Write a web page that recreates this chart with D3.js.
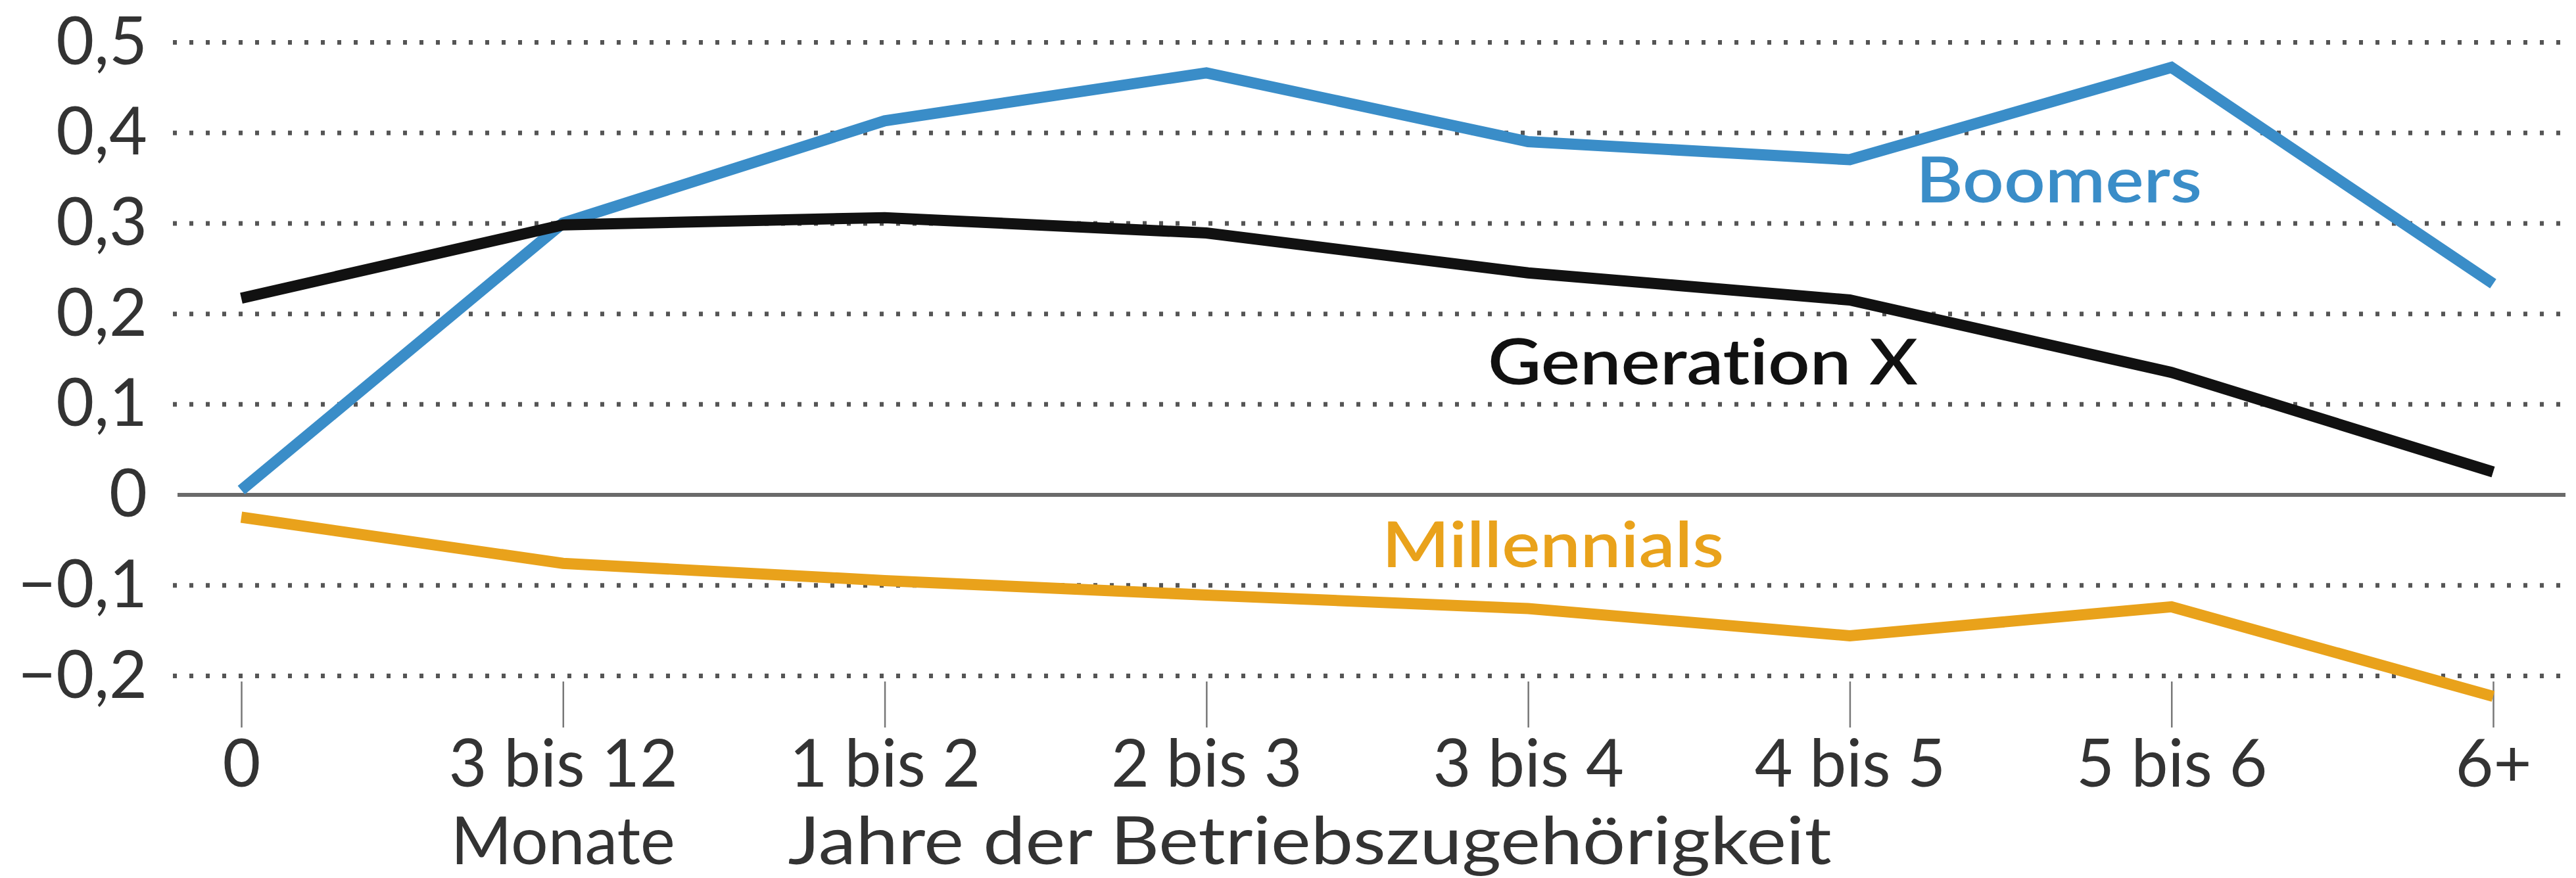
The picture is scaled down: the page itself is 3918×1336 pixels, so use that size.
<!DOCTYPE html>
<html>
<head>
<meta charset="utf-8">
<script src="https://cdn.jsdelivr.net/npm/d3@7"></script>
<style>
  html, body { margin: 0; padding: 0; background: #ffffff; }
  svg { display: block; }
  text { font-family: Lato, "Open Sans", sans-serif; font-variant-ligatures: none; }
</style>
</head>
<body>
<svg id="chart" width="3918" height="1336"></svg>
<script>
const categories = ["0", "3 bis 12", "1 bis 2", "2 bis 3", "3 bis 4", "4 bis 5", "5 bis 6", "6+"];
const boomers     = [0.005, 0.300, 0.413, 0.466, 0.390, 0.370, 0.472, 0.233];
const generationX = [0.217, 0.298, 0.306, 0.289, 0.245, 0.215, 0.135, 0.025];
const millennials = [-0.025, -0.076, -0.095, -0.111, -0.126, -0.156, -0.124, -0.223];
const yTicks = [-0.2, -0.1, 0, 0.1, 0.2, 0.3, 0.4, 0.5];
const seriesNames = ["Boomers", "Generation X", "Millennials"];
const axisNotes = ["Monate", "Jahre der Betriebszugehörigkeit"];

const svg = d3.select("#chart");
const gridLeft = 263, gridRight = 3902;

const x = d3.scalePoint().domain(categories).range([367, 3792]);
const y = d3.scaleLinear().domain([-0.2, 0.5]).range([1028, 64]);

const fmt = v => v === 0 ? "0" : (v < 0 ? "\u2212" : "") + d3.format(".1f")(Math.abs(v)).replace(".", ",");

// Y axis with grid lines
const yAxis = d3.axisLeft(y)
  .tickValues(yTicks)
  .tickSize(-(gridRight - gridLeft))
  .tickPadding(39)
  .tickFormat(fmt);

const gy = svg.append("g")
  .attr("transform", `translate(${gridLeft},0)`)
  .call(yAxis);
gy.select(".domain").remove();
gy.selectAll(".tick line")
  .attr("stroke", d => d === 0 ? "#6a6a6a" : "#555")
  .attr("stroke-width", d => d === 0 ? 6 : 7)
  .attr("stroke-dasharray", d => d === 0 ? null : "6,19")
  .attr("x1", d => d === 0 ? 7 : 0);
gy.selectAll(".tick text")
  .attr("fill", "#333")
  .attr("font-size", 100)
  .attr("font-weight", 400)
  .attr("dy", "0.33em");

// X axis
const xAxis = d3.axisBottom(x).tickSize(70).tickPadding(0);
const gx = svg.append("g")
  .attr("transform", `translate(0,1037)`)
  .call(xAxis);
gx.select(".domain").remove();
gx.selectAll(".tick line").attr("stroke", "#777").attr("stroke-width", 2.5);
gx.selectAll(".tick text")
  .attr("fill", "#333")
  .attr("font-size", 100)
  .attr("y", 160)
  .attr("dy", 0);

// second line notes under the axis
svg.append("text")
  .attr("x", x(categories[1]))
  .attr("y", 1315)
  .attr("text-anchor", "middle")
  .attr("font-size", 100)
  .attr("fill", "#333")
  .text(axisNotes[0]);
svg.append("text")
  .attr("x", x(categories[2]) - 147)
  .attr("y", 1315)
  .attr("text-anchor", "start")
  .attr("font-size", 100)
  .attr("fill", "#333")
  .attr("textLength", 1587)
  .attr("lengthAdjust", "spacingAndGlyphs")
  .text(axisNotes[1]);

// lines
const line = d3.line()
  .x((d, i) => x(categories[i]))
  .y(d => y(d));

const series = [
  { name: seriesNames[2], values: millennials, color: "#e9a21b" },
  { name: seriesNames[0], values: boomers, color: "#3a8dc8" },
  { name: seriesNames[1], values: generationX, color: "#111111" }
];

svg.append("g").selectAll("path")
  .data(series)
  .join("path")
  .attr("d", d => line(d.values))
  .attr("fill", "none")
  .attr("stroke", d => d.color)
  .attr("stroke-width", 17)
  .attr("stroke-linejoin", "miter");

// series labels
const labels = [
  { text: seriesNames[0], x: 2914, y: 308, w: 435, color: "#3a8dc8" },
  { text: seriesNames[1], x: 2263, y: 585, w: 654, color: "#111111" },
  { text: seriesNames[2], x: 2102, y: 863, w: 520, color: "#e9a21b" }
];
svg.append("g").selectAll("text")
  .data(labels)
  .join("text")
  .attr("x", d => d.x)
  .attr("y", d => d.y)
  .attr("fill", d => d.color)
  .attr("font-size", 96)
  .attr("font-weight", 600)
  .attr("textLength", d => d.w)
  .attr("lengthAdjust", "spacingAndGlyphs")
  .text(d => d.text);
</script>
</body>
</html>
